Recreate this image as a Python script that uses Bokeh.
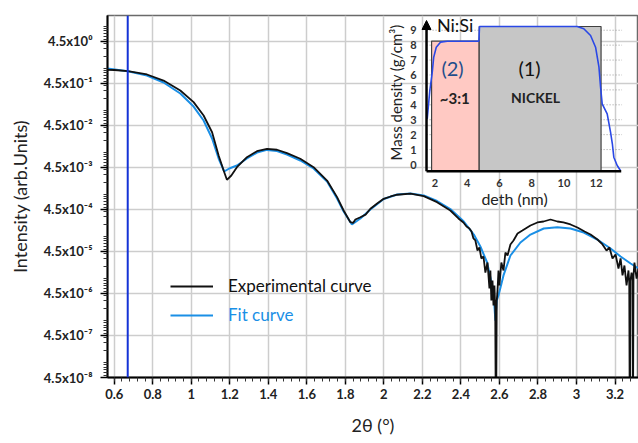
import numpy as np
from bokeh.plotting import figure
from bokeh.models import (Range1d, FixedTicker, CustomJSTickFormatter, Legend, LegendItem,
                          Span, Arrow, NormalHead, LinearScale)
from bokeh.core.properties import value
from bokeh.embed import file_html
from bokeh.resources import INLINE

# ---------------- main data ----------------
two_theta_exp = [0.565, 0.600, 0.671, 0.770, 0.856, 0.943, 1.012, 1.064, 1.108, 1.142, 1.168, 1.185,
                 1.208, 1.237, 1.289, 1.341, 1.393, 1.445, 1.497, 1.566, 1.635, 1.705, 1.757, 1.791,
                 1.826, 1.840, 1.852, 1.878, 1.905, 1.930, 1.965, 1.999, 2.035, 2.069, 2.138, 2.207,
                 2.276, 2.345, 2.387, 2.413, 2.429, 2.444, 2.455, 2.465, 2.475, 2.486, 2.496, 2.506,
                 2.517, 2.527, 2.538, 2.548, 2.553, 2.558, 2.564, 2.569, 2.574, 2.578, 2.582, 2.586,
                 2.590, 2.595, 2.600, 2.610, 2.621, 2.631, 2.642, 2.657, 2.673, 2.694, 2.719, 2.761,
                 2.797, 2.829, 2.865, 2.901, 2.932, 2.969, 3.005, 3.042, 3.073, 3.109, 3.135, 3.156,
                 3.171, 3.187, 3.203, 3.218, 3.229, 3.239, 3.249, 3.260, 3.270, 3.274, 3.277, 3.280,
                 3.286, 3.291, 3.293, 3.296, 3.301, 3.312, 3.322]
intensity_exp = [0.953, 0.943, 0.883, 0.737, 0.529, 0.306, 0.162, 0.0778, 0.0311, 8.69e-3, 3.82e-3, 2.29e-3,
                 2.90e-3, 4.57e-3, 7.91e-3, 0.0110, 0.0125, 0.0119, 9.85e-3, 7.25e-3, 4.57e-3, 2.20e-3, 8.85e-4, 4.26e-4,
                 2.24e-4, 2.15e-4, 2.60e-4, 2.95e-4, 3.40e-4, 4.68e-4, 6.25e-4, 8.09e-4, 9.18e-4, 1.01e-3, 1.07e-3, 9.34e-4,
                 6.72e-4, 4.26e-4, 2.75e-4, 2.21e-4, 1.77e-4, 1.59e-4, 1.35e-4, 9.18e-5, 8.23e-5, 4.75e-5, 5.61e-5, 3.07e-5,
                 3.42e-5, 1.42e-5, 2.46e-5, 5.92e-6, 1.59e-5, 3.07e-6, 9.18e-6, 2.33e-6, 6.98e-6, 2.0e-6, 1e-9, 3.0e-6,
                 5.30e-6, 1.59e-5, 6.98e-6, 2.46e-5, 1.59e-5, 4.26e-5, 3.61e-5, 6.61e-5, 8.23e-5, 1.21e-4, 1.42e-4, 1.87e-4,
                 2.21e-4, 2.33e-4, 2.60e-4, 2.33e-4, 2.21e-4, 1.98e-4, 1.68e-4, 1.35e-4, 1.14e-4, 8.69e-5, 6.61e-5, 4.75e-5,
                 5.61e-5, 3.07e-5, 3.82e-5, 1.77e-5, 3.07e-5, 1.21e-5, 2.09e-5, 6.98e-6, 1.59e-5, 8.0e-6, 1e-9, 9.0e-6,
                 1.42e-5, 1.0e-5, 1e-9, 1.2e-5, 2.46e-5, 1.02e-5, 1.77e-5]

two_theta_fit = [0.564, 0.671, 0.770, 0.856, 0.943, 1.012, 1.064, 1.108, 1.142, 1.171, 1.197, 1.237,
                 1.289, 1.341, 1.393, 1.445, 1.497, 1.566, 1.635, 1.705, 1.757, 1.791, 1.834, 1.878,
                 1.930, 1.999, 2.069, 2.138, 2.207, 2.276, 2.345, 2.415, 2.467, 2.501, 2.536, 2.562,
                 2.572, 2.579, 2.586, 2.595, 2.621, 2.657, 2.709, 2.761, 2.830, 2.900, 2.969, 3.038,
                 3.108, 3.177, 3.229, 3.281, 3.322]
intensity_fit = [1.024, 0.883, 0.697, 0.476, 0.260, 0.127, 0.0592, 0.0220, 7.37e-3, 3.61e-3, 4.26e-3, 5.03e-3,
                 7.37e-3, 0.0102, 0.0118, 0.0111, 9.18e-3, 6.61e-3, 4.26e-3, 2.09e-3, 8.23e-4, 4.03e-4, 1.98e-4, 2.75e-4,
                 4.50e-4, 8.00e-4, 1.02e-3, 1.08e-3, 9.69e-4, 7.17e-4, 4.62e-4, 2.33e-4, 1.14e-4, 5.92e-5, 2.46e-5, 6.98e-6,
                 3.07e-6, 1.02e-6, 3.07e-6, 4.03e-6, 1.21e-5, 3.61e-5, 7.37e-5, 1.14e-4, 1.59e-4, 1.71e-4, 1.59e-4, 1.27e-4,
                 8.69e-5, 5.30e-5, 3.42e-5, 2.33e-5, 1.77e-5]

critical_angle = 0.67

x_ticks = [0.6, 0.8, 1.0, 1.2, 1.4, 1.6, 1.8, 2.0, 2.2, 2.4, 2.6, 2.8, 3.0, 3.2]
x_tick_labels = ["0.6", "0.8", "1", "1.2", "1.4", "1.6", "1.8", "2", "2.2", "2.4", "2.6", "2.8", "3", "3.2"]
y_ticks = [4.5, 4.5e-1, 4.5e-2, 4.5e-3, 4.5e-4, 4.5e-5, 4.5e-6, 4.5e-7, 4.5e-8]
y_tick_labels = ["4.5x10⁰", "4.5x10⁻¹", "4.5x10⁻²", "4.5x10⁻³", "4.5x10⁻⁴",
                 "4.5x10⁻⁵", "4.5x10⁻⁶", "4.5x10⁻⁷", "4.5x10⁻⁸"]

# ---------------- inset data ----------------
depth_nm = [1.53, 1.69, 1.84, 1.93, 2.09, 2.35, 2.77, 4.73, 4.77, 10.82, 11.23, 11.65, 11.96,
            12.17, 12.27, 12.37, 12.68, 12.89, 13.00, 13.09, 13.30, 13.50]
mass_density = [3.06, 4.96, 6.18, 7.18, 7.86, 8.20, 8.26, 8.27, 9.25, 9.25, 9.10, 8.65, 7.86,
                6.52, 5.18, 4.07, 3.40, 2.16, 1.39, 0.49, -0.07, -0.40]
layer_left = [1.80, 4.75]
layer_right = [4.75, 12.30]
layer_top = [8.27, 9.25]
layer_colors = ["#ffc9c3", "#c6c6c6"]
inset_x_ticks = [2, 4, 6, 8, 10, 12]
inset_x_tick_labels = ["2", "4", "6", "8", "10", "12"]
inset_y_ticks = [0, 1, 2, 3, 4, 5, 6, 7, 8, 9]
inset_y_tick_labels = ["0", "1", "2", "3", "4", "5", "6", "7", "8", "9"]

FONT = "Lato"

p = figure(width=638, height=443, x_range=Range1d(0.565, 3.322), y_range=Range1d(4.5e-8, 18.7),
           y_axis_type="log", output_backend="svg", toolbar_location=None,
           min_border_left=107, min_border_right=0, min_border_top=15, min_border_bottom=66)
p.background_fill_color = "white"
p.border_fill_color = "white"
p.outline_line_color = "#6a6a6a"
p.outline_line_width = 1.5

p.extra_x_ranges = {"ix": Range1d(-18.28, 14.62)}
p.extra_y_ranges = {"iy": Range1d(-14.276, 9.987)}
p.extra_y_scales = {"iy": LinearScale()}

# ticks
x_minor = [round(0.56 + 0.04 * i, 2) for i in range(70)]
xt = FixedTicker(ticks=x_ticks, minor_ticks=x_minor)
y_minor = [k * 10.0 ** n for n in range(-8, 2) for k in range(1, 10)]
yt = FixedTicker(ticks=y_ticks, minor_ticks=y_minor)
p.xaxis.ticker = xt
p.yaxis.ticker = yt
p.xgrid.ticker = xt
p.ygrid.ticker = yt
p.xaxis.formatter = CustomJSTickFormatter(args=dict(tvals=x_ticks, tlabels=x_tick_labels), code="""
let best = 0, bd = Infinity;
for (let i = 0; i < tvals.length; i++) { const d = Math.abs(tick - tvals[i]); if (d < bd) { bd = d; best = i; } }
return tlabels[best];
""")
p.yaxis.formatter = CustomJSTickFormatter(args=dict(tvals=y_ticks, tlabels=y_tick_labels), code="""
let best = 0, bd = Infinity;
for (let i = 0; i < tvals.length; i++) { const d = Math.abs(Math.log(tick) - Math.log(tvals[i])); if (d < bd) { bd = d; best = i; } }
return tlabels[best];
""")

for ax in (p.xaxis[0], p.yaxis[0]):
    ax.axis_line_color = "black"
    ax.axis_line_width = 2
    ax.major_tick_line_color = "black"
    ax.major_tick_line_width = 1.5
    ax.major_tick_in = 0
    ax.major_tick_out = 7
    ax.minor_tick_line_color = "#333333"
    ax.minor_tick_line_width = 1
    ax.minor_tick_in = 0
    ax.minor_tick_out = 4
    ax.major_label_text_font = FONT
    ax.major_label_text_font_size = "13px"
    ax.major_label_text_font_style = "bold"
    ax.major_label_text_color = "#222222"
    ax.axis_label_text_font = FONT
    ax.axis_label_text_font_size = "18px"
    ax.axis_label_text_font_style = "normal"
    ax.axis_label_text_color = "#222222"

p.xaxis.axis_label = "2θ (°)"
p.yaxis.axis_label = "Intensity (arb.Units)"
p.xaxis.major_label_standoff = 4
p.xaxis.axis_label_standoff = 12
p.yaxis.major_label_standoff = 8
p.yaxis.axis_label_standoff = 10

for g in (p.xgrid[0], p.ygrid[0]):
    g.grid_line_color = "#cdcdcd"
    g.grid_line_width = 1.5

# ---------------- inset ----------------
IR = dict(x_range_name="ix", y_range_name="iy")
p.segment(x0=[1.49] * 9, x1=[13.6] * 9, y0=inset_y_ticks[1:], y1=inset_y_ticks[1:],
          line_color="#9a9a9a", line_dash="1 2", line_width=1, **IR)
p.quad(left=layer_left, right=layer_right, bottom=[-0.45, -0.45], top=layer_top,
       fill_color=layer_colors, line_color="#404040", line_width=1.2, **IR)
p.line(depth_nm, mass_density, line_color="#2a48e6", line_width=1.6, **IR)
p.segment(x0=[1.486], x1=[13.55], y0=[-0.45], y1=[-0.45], line_color="black", line_width=2.5, **IR)
p.add_layout(Arrow(x_start=1.486, y_start=-0.45, x_end=1.486, y_end=9.65, line_color="black", line_width=2.5,
                   end=NormalHead(size=9, fill_color="black", line_color="black"), **IR))

p.text(x=[0.68] * len(inset_y_ticks), y=inset_y_ticks, text=inset_y_tick_labels,
       text_font=value(FONT), text_font_size="11px", text_font_style="bold", text_color="#333333",
       text_align="center", text_baseline="middle", **IR)
p.text(x=inset_x_ticks, y=[-1.27] * len(inset_x_ticks), text=inset_x_tick_labels,
       text_font=value(FONT), text_font_size="11px", text_font_style="bold", text_color="#333333",
       text_align="center", text_baseline="middle", **IR)
p.text(x=[-0.435], y=[4.83], text=["Mass density (g/cm³)"], angle=np.pi / 2,
       text_font=value(FONT), text_font_size="15px", text_color="#222222",
       text_align="center", text_baseline="middle", **IR)
p.text(x=[6.94], y=[-2.28], text=["deth (nm)"],
       text_font=value(FONT), text_font_size="16px", text_color="#222222",
       text_align="center", text_baseline="middle", **IR)
p.text(x=[3.26], y=[9.38], text=["Ni:Si"],
       text_font=value(FONT), text_font_size="18px", text_color="#111111",
       text_align="center", text_baseline="middle", **IR)
p.text(x=[3.10], y=[6.5], text=["(2)"],
       text_font=value(FONT), text_font_size="20px", text_color="#1f4e8c",
       text_align="center", text_baseline="middle", **IR)
p.text(x=[7.87], y=[6.5], text=["(1)"],
       text_font=value(FONT), text_font_size="20px", text_color="#111111",
       text_align="center", text_baseline="middle", **IR)
p.text(x=[3.24], y=[4.49], text=["~3:1"],
       text_font=value(FONT), text_font_size="15px", text_font_style="bold", text_color="#222222",
       text_align="center", text_baseline="middle", **IR)
p.text(x=[8.24], y=[4.49], text=["NICKEL"],
       text_font=value(FONT), text_font_size="14px", text_font_style="bold", text_color="#222222",
       text_align="center", text_baseline="middle", **IR)

# ---------------- main curves ----------------
r_fit = p.line(two_theta_fit, intensity_fit, line_color="#1a8fe6", line_width=2)
r_exp = p.line(two_theta_exp, intensity_exp, line_color="#111111", line_width=1.8)
p.add_layout(Span(location=critical_angle, dimension="height", line_color="#1432d6", line_width=2))

def make_legend(label, rend, color, loc):
    lg = Legend(items=[LegendItem(label=label, renderers=[rend])], location=loc,
                padding=0, margin=0, spacing=0, glyph_width=43, glyph_height=20, label_height=20,
                label_standoff=15, border_line_color=None, background_fill_alpha=0,
                label_text_font=FONT, label_text_font_size="17px", label_text_color=color)
    return lg

p.add_layout(make_legend("Experimental curve", r_exp, "#111111", (63, 81)))
p.add_layout(make_legend("Fit curve", r_fit, "#1a8fe6", (63, 52)))

open("out.html", "w").write(file_html(p, INLINE))
